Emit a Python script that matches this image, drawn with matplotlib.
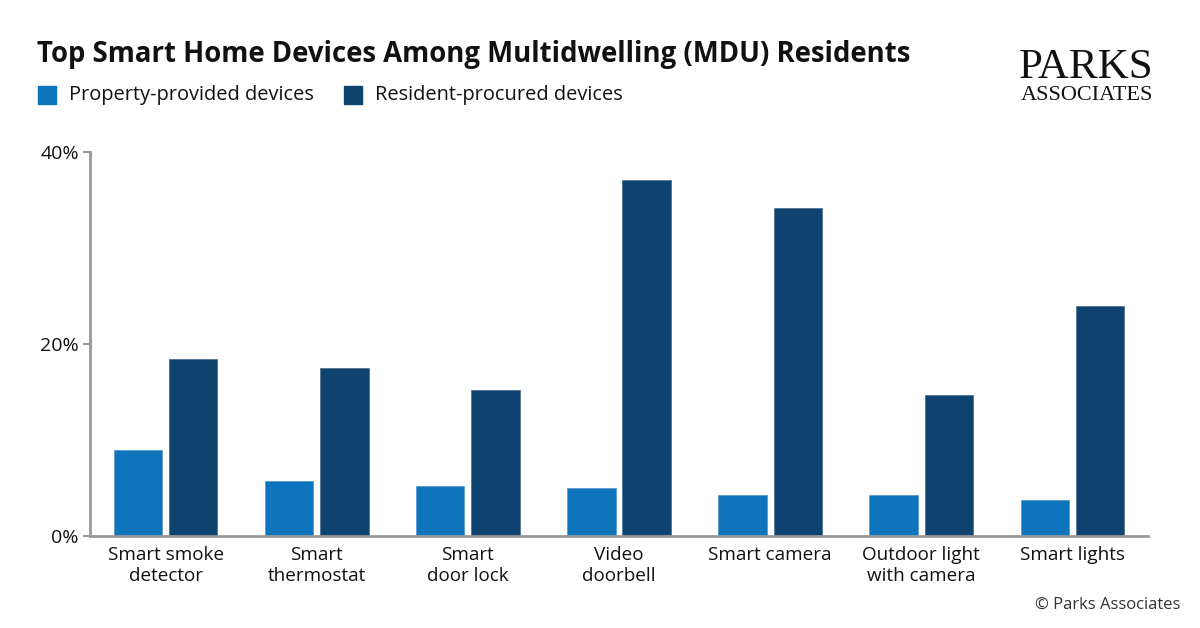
import numpy as np
import matplotlib.pyplot as plt
from matplotlib.patches import Rectangle

categories = ["Smart smoke\ndetector", "Smart\nthermostat", "Smart\ndoor lock", "Video\ndoorbell",
              "Smart camera", "Outdoor light\nwith camera", "Smart lights"]
property_provided = [9.0, 5.7, 5.2, 5.0, 4.3, 4.3, 3.8]
resident_procured = [18.4, 17.5, 15.2, 37.1, 34.2, 14.7, 24.0]
series_names = ["Property-provided devices", "Resident-procured devices"]
yticks = [0, 20, 40]
ytick_labels = ["0%", "20%", "40%"]

c_light = "#0E75BC"
c_dark = "#0D436E"
font = "Open Sans"

fig = plt.figure(figsize=(12, 6.28), dpi=100)
ax = fig.add_axes([0.075, 0.1465, 0.8817, 0.611])

x = np.arange(len(categories))
w = 0.32
gap = 0.046
ax.bar(x - (w + gap) / 2, property_provided, w, color=c_light, edgecolor="#5A9BD0", linewidth=0.6)
ax.bar(x + (w + gap) / 2, resident_procured, w, color=c_dark, edgecolor="#4F7396", linewidth=0.6)

ax.set_xlim(-0.5, len(categories) - 0.5)
ax.set_ylim(0, 40)
ax.set_yticks(yticks)
ax.set_yticklabels(ytick_labels, fontsize=14, family=font, color="#111111")
ax.set_xticks(x)
ax.set_xticklabels(categories, fontsize=13.6, family=font, color="#111111", linespacing=1.2)
ax.tick_params(axis="x", length=0, pad=7)
ax.tick_params(axis="y", length=5, width=1.5, color="#999999", pad=3)
for s in ["top", "right"]:
    ax.spines[s].set_visible(False)
for s in ["left", "bottom"]:
    ax.spines[s].set_color("#999999")
    ax.spines[s].set_linewidth(2)

# title and legend
fig.text(37 / 1200, 1 - 62 / 628, "Top Smart Home Devices Among Multidwelling (MDU) Residents",
         fontsize=19.8, fontweight="bold", family=font, color="#111111", ha="left", va="baseline")
for xs, col, name in [(38, c_light, series_names[0]), (344, c_dark, series_names[1])]:
    fig.patches.append(Rectangle((xs / 1200, 1 - 104 / 628), 18 / 1200, 18 / 628,
                                 transform=fig.transFigure, color=col))
    fig.text((xs + 31) / 1200, 1 - 100 / 628, name, fontsize=14.4, family=font,
             color="#111111", ha="left", va="baseline")

# logo
fig.text(1153 / 1200, 1 - 78 / 628, "PARKS", fontsize=31, family="Liberation Serif",
         color="#111111", ha="right", va="baseline")
fig.text(1153 / 1200, 1 - 100 / 628, "ASSOCIATES", fontsize=16, family="Liberation Serif",
         color="#111111", ha="right", va="baseline")

fig.text(1180 / 1200, 1 - 605 / 628, "© Parks Associates", fontsize=12, family=font,
         color="#333333", ha="right", va="center")

fig.savefig("out.png", dpi=100)
